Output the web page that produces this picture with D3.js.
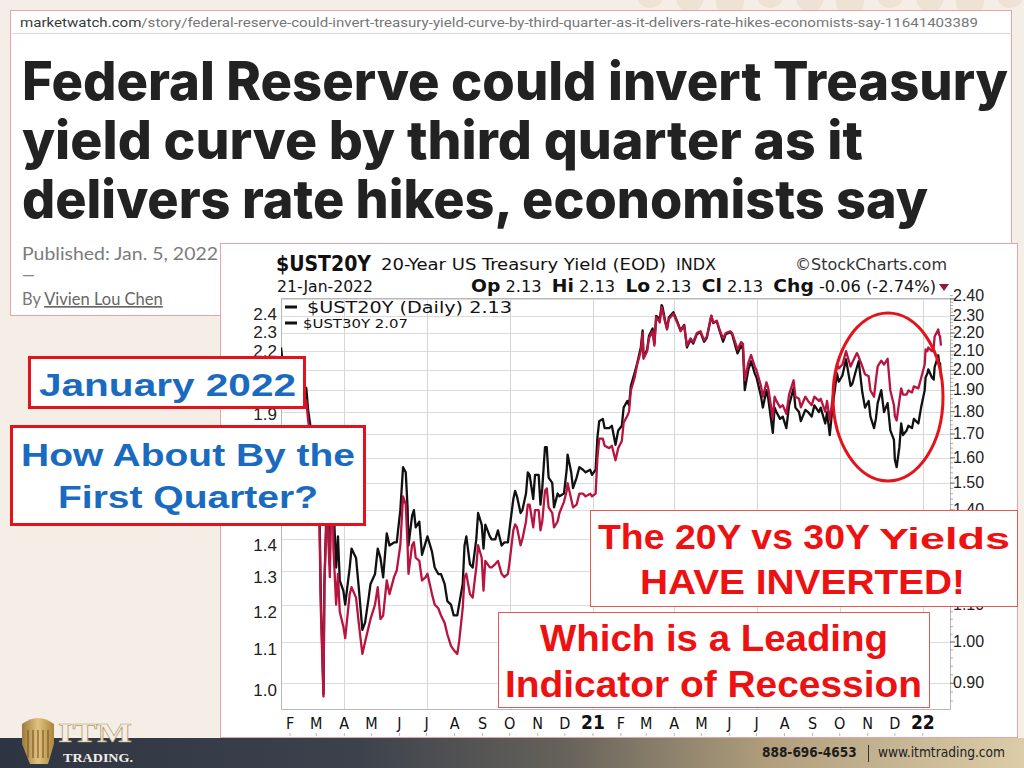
<!DOCTYPE html>
<html><head><meta charset="utf-8">
<script src="https://cdn.jsdelivr.net/npm/d3@7"></script>
<style>html,body{margin:0;padding:0;background:#f5eee7;}svg{display:block}</style>
</head><body><svg id="c" width="1024" height="768"></svg>
<script>
// ---------------- DATA ----------------
const dates = [
"2020-01-22","2020-01-24","2020-01-28","2020-01-31","2020-02-04","2020-02-07","2020-02-12","2020-02-14","2020-02-19","2020-02-21",
"2020-02-25","2020-02-27","2020-03-02","2020-03-04","2020-03-06","2020-03-09","2020-03-10","2020-03-12","2020-03-13","2020-03-16",
"2020-03-18","2020-03-19","2020-03-20","2020-03-23","2020-03-25","2020-03-27","2020-03-31","2020-04-02","2020-04-07","2020-04-09",
"2020-04-14","2020-04-17","2020-04-21","2020-04-24","2020-04-28","2020-04-30","2020-05-05","2020-05-08","2020-05-11","2020-05-14",
"2020-05-18","2020-05-21","2020-05-26","2020-05-29","2020-06-02","2020-06-05","2020-06-08","2020-06-10","2020-06-11","2020-06-15",
"2020-06-17","2020-06-19","2020-06-23","2020-06-26","2020-06-30","2020-07-02","2020-07-07","2020-07-10","2020-07-14","2020-07-17",
"2020-07-21","2020-07-24","2020-07-28","2020-07-31","2020-08-04","2020-08-06","2020-08-10","2020-08-12","2020-08-14","2020-08-18",
"2020-08-21","2020-08-25","2020-08-27","2020-08-31","2020-09-02","2020-09-04","2020-09-09","2020-09-11","2020-09-15","2020-09-18",
"2020-09-22","2020-09-25","2020-09-29","2020-10-01","2020-10-05","2020-10-07","2020-10-09","2020-10-13","2020-10-15","2020-10-19",
"2020-10-21","2020-10-23","2020-10-27","2020-10-29","2020-11-02","2020-11-04","2020-11-06","2020-11-09","2020-11-11","2020-11-13",
"2020-11-17","2020-11-19","2020-11-23","2020-11-25","2020-11-30","2020-12-03","2020-12-04","2020-12-08","2020-12-10","2020-12-14",
"2020-12-17","2020-12-21","2020-12-24","2020-12-29","2020-12-31",
"2021-01-04","2021-01-06","2021-01-08","2021-01-12","2021-01-14","2021-01-19","2021-01-22","2021-01-26","2021-01-29","2021-02-02",
"2021-02-04","2021-02-08","2021-02-10","2021-02-12","2021-02-16","2021-02-19","2021-02-23","2021-02-25","2021-02-26","2021-03-02",
"2021-03-04","2021-03-08","2021-03-10","2021-03-12","2021-03-16","2021-03-18","2021-03-19","2021-03-22","2021-03-24","2021-03-26",
"2021-03-31","2021-04-05","2021-04-08","2021-04-12","2021-04-15","2021-04-19","2021-04-22","2021-04-26","2021-04-30","2021-05-04",
"2021-05-07","2021-05-12","2021-05-14","2021-05-18","2021-05-21","2021-05-25","2021-05-28","2021-06-02","2021-06-04","2021-06-08",
"2021-06-10","2021-06-14","2021-06-16","2021-06-18","2021-06-22","2021-06-25","2021-06-29","2021-07-01","2021-07-06","2021-07-08",
"2021-07-12","2021-07-14","2021-07-19","2021-07-21","2021-07-23","2021-07-27","2021-07-30","2021-08-03","2021-08-06","2021-08-11",
"2021-08-13","2021-08-17","2021-08-19","2021-08-24","2021-08-27","2021-08-31","2021-09-03","2021-09-08","2021-09-10","2021-09-15",
"2021-09-17","2021-09-20","2021-09-23","2021-09-28","2021-09-30","2021-10-04","2021-10-08","2021-10-13","2021-10-15","2021-10-20",
"2021-10-22","2021-10-26","2021-10-29","2021-11-02","2021-11-04","2021-11-08","2021-11-10","2021-11-12","2021-11-16","2021-11-19",
"2021-11-23","2021-11-26","2021-11-30","2021-12-01","2021-12-03","2021-12-06","2021-12-08","2021-12-10","2021-12-14","2021-12-16",
"2021-12-20","2021-12-22","2021-12-27","2021-12-30",
"2022-01-03","2022-01-04","2022-01-06","2022-01-07","2022-01-11","2022-01-13","2022-01-14","2022-01-18","2022-01-19","2022-01-20","2022-01-21"
];
// $UST30Y (black line, left axis)
const ust30 = [
2.22,2.14,2.09,2.00,2.08,2.05,2.09,2.04,2.02,1.92,
1.81,1.68,1.65,1.64,1.25,0.99,1.28,1.49,1.56,1.34,
1.78,1.77,1.55,1.33,1.43,1.29,1.26,1.22,1.33,1.39,
1.36,1.27,1.15,1.17,1.24,1.28,1.31,1.39,1.36,1.30,
1.44,1.40,1.41,1.41,1.52,1.68,1.66,1.53,1.40,1.50,
1.52,1.46,1.48,1.37,1.41,1.43,1.38,1.33,1.31,1.31,
1.28,1.23,1.22,1.19,1.19,1.22,1.28,1.40,1.43,1.34,
1.33,1.42,1.51,1.47,1.39,1.47,1.43,1.42,1.42,1.45,
1.40,1.41,1.41,1.46,1.56,1.59,1.57,1.51,1.52,1.58,
1.66,1.65,1.56,1.65,1.65,1.54,1.60,1.76,1.76,1.64,
1.62,1.53,1.58,1.57,1.58,1.67,1.73,1.66,1.60,1.64,
1.68,1.67,1.66,1.67,1.65,
1.67,1.80,1.87,1.88,1.84,1.84,1.85,1.77,1.83,1.85,
1.93,1.96,1.94,2.03,2.09,2.14,2.22,2.31,2.17,2.21,
2.28,2.32,2.24,2.39,2.37,2.45,2.44,2.36,2.32,2.38,
2.41,2.35,2.31,2.34,2.22,2.26,2.24,2.29,2.30,2.25,
2.27,2.39,2.35,2.36,2.31,2.25,2.29,2.30,2.29,2.22,
2.19,2.23,2.21,2.01,2.11,2.15,2.09,2.07,1.98,1.93,
2.01,1.97,1.82,1.93,1.91,1.88,1.89,1.84,1.94,2.02,
1.93,1.91,1.87,1.92,1.91,1.89,1.94,1.91,1.93,1.86,
1.91,1.81,1.93,2.09,2.05,2.08,2.16,2.03,2.04,2.12,
2.15,2.00,1.93,1.96,1.89,1.84,1.88,1.95,2.01,1.91,
1.95,1.83,1.79,1.71,1.68,1.76,1.86,1.81,1.83,1.85,
1.84,1.88,1.86,1.93,
2.01,2.07,2.09,2.11,2.07,2.06,2.12,2.18,2.14,2.14,2.07
];
// $UST20Y (crimson line, right axis)
const ust20 = [
2.04,1.96,1.91,1.83,1.91,1.87,1.92,1.87,1.85,1.76,
1.65,1.52,1.48,1.46,1.09,0.87,1.16,1.33,1.41,1.18,
1.56,1.52,1.27,1.10,1.19,1.08,1.04,1.01,1.13,1.15,
1.12,1.05,0.97,1.00,1.04,1.06,1.10,1.15,1.06,1.07,
1.17,1.13,1.18,1.20,1.28,1.45,1.42,1.28,1.19,1.28,
1.29,1.24,1.23,1.17,1.18,1.19,1.13,1.10,1.09,1.07,
1.05,1.02,0.99,0.98,0.97,1.00,1.09,1.18,1.19,1.13,
1.12,1.21,1.28,1.24,1.14,1.23,1.21,1.21,1.22,1.23,
1.19,1.18,1.19,1.23,1.33,1.35,1.34,1.28,1.30,1.36,
1.42,1.42,1.34,1.40,1.40,1.33,1.36,1.47,1.48,1.41,
1.39,1.34,1.36,1.39,1.43,1.47,1.50,1.44,1.41,1.42,
1.46,1.46,1.45,1.46,1.45,
1.46,1.60,1.68,1.68,1.65,1.64,1.65,1.59,1.64,1.67,
1.75,1.78,1.80,1.90,1.96,2.03,2.10,2.20,2.06,2.10,
2.17,2.21,2.13,2.29,2.26,2.35,2.33,2.26,2.22,2.28,
2.31,2.25,2.21,2.24,2.13,2.17,2.15,2.20,2.21,2.16,
2.18,2.30,2.26,2.27,2.22,2.17,2.20,2.21,2.20,2.14,
2.11,2.15,2.14,1.95,2.04,2.08,2.02,2.00,1.92,1.87,
1.94,1.91,1.77,1.87,1.85,1.82,1.83,1.79,1.88,1.95,
1.87,1.86,1.82,1.87,1.85,1.83,1.87,1.85,1.86,1.80,
1.85,1.76,1.86,2.03,2.01,2.03,2.10,2.02,2.04,2.09,
2.07,2.02,1.98,1.97,1.90,1.87,1.95,2.02,2.05,2.03,
2.06,1.90,1.83,1.78,1.76,1.85,1.91,1.88,1.88,1.90,
1.89,1.92,1.91,1.96,
2.03,2.11,2.10,2.12,2.10,2.12,2.18,2.22,2.19,2.18,2.13
];
// tick values: grid lines follow the right axis; labels are the ones left visible in the picture
const rightTicks = [0.9,1.0,1.1,1.2,1.3,1.4,1.5,1.6,1.7,1.8,1.9,2.0,2.1,2.2,2.3,2.4];
const rightLabels = [0.9,1.0,1.1,1.4,1.5,1.6,1.7,1.8,1.9,2.0,2.1,2.2,2.3,2.4];
const leftLabels = [1.0,1.1,1.2,1.3,1.4,1.9,2.2,2.3,2.4];
const monthLabels = ["F","M","A","M","J","J","A","S","O","N","D","21","F","M","A","M","J","J","A","S","O","N","D","22"];
const legendLabels = ["$UST20Y (Daily) 2.13","$UST30Y 2.07"];

// ---------------- DRAW ----------------
const svg = d3.select("#c");
const parse = d3.timeParse("%Y-%m-%d");
const pts = dates.map((d,i)=>({date:parse(d), v30:ust30[i], v20:ust20[i]}));

const P = {l:281, r:950, t:298, b:709};
const x = d3.scaleTime().domain([new Date(2020,0,22), new Date(2022,0,31)]).range([P.l, P.r]);
const yL = d3.scaleLog().domain([1.0, 2.4]).range([690, 314]);
const yR = d3.scaleLog().domain([1.0, 2.2]).range([642, 333]);

const defs = svg.append("defs");
const grad = defs.append("linearGradient").attr("id","foot").attr("x1","0").attr("x2","1");
[["0%","#2e3542"],["35%","#3c424c"],["55%","#66625a"],["75%","#b09e7c"],["100%","#dccca8"]]
  .forEach(s=>grad.append("stop").attr("offset",s[0]).attr("stop-color",s[1]));
const gold = defs.append("linearGradient").attr("id","gold").attr("x1","0").attr("x2","1");
[["0%","#9c7a3c"],["50%","#e2c27e"],["100%","#a9863f"]].forEach(s=>gold.append("stop").attr("offset",s[0]).attr("stop-color",s[1]));
defs.append("clipPath").attr("id","plot").append("rect")
  .attr("x",P.l).attr("y",P.t).attr("width",P.r-P.l).attr("height",P.b-P.t);

// background
svg.append("rect").attr("width",1024).attr("height",768).attr("fill","#f5eee7");
const deco = svg.append("g").attr("fill","#eee2d5");
[650,690,730,770,810,850,890,930,970,1010].forEach((cx,i)=>{
  deco.append("rect").attr("x",cx-14).attr("y",-20).attr("width",28).attr("height",28+ (i%3)*4).attr("rx",14);
});

// article card
svg.append("rect").attr("x",10.5).attr("y",10.5).attr("width",1001).attr("height",305)
  .attr("fill","#ffffff").attr("stroke","#e8a4a4");
svg.append("line").attr("x1",10.5).attr("x2",1011.5).attr("y1",33.5).attr("y2",33.5).attr("stroke","#f0d2d2");
const url = svg.append("text").attr("x",20).attr("y",27).attr("font-family","Roboto, 'Liberation Sans Narrow', sans-serif")
  .attr("font-size",13.5).attr("textLength",958).attr("lengthAdjust","spacingAndGlyphs");
url.append("tspan").attr("fill","#3a3a3a").text("marketwatch.com");
url.append("tspan").attr("fill","#777").text("/story/federal-reserve-could-invert-treasury-yield-curve-by-third-quarter-as-it-delivers-rate-hikes-economists-say-11641403389");

const head = [["Federal Reserve could invert Treasury",100,986],["yield curve by third quarter as it",159,841],["delivers rate hikes, economists say",218,906]];
head.forEach(h=>svg.append("text").attr("x",22).attr("y",h[1]).attr("font-family","Inter, 'Open Sans', sans-serif")
  .attr("font-weight",800).attr("font-size",53).attr("fill","#222").attr("textLength",h[2])
  .attr("lengthAdjust","spacingAndGlyphs").text(h[0]));
svg.append("text").attr("x",22).attr("y",260).attr("font-family","Lato, sans-serif").attr("font-size",16.5)
  .attr("fill","#7b7b7b").attr("textLength",196).attr("lengthAdjust","spacingAndGlyphs").text("Published: Jan. 5, 2022");
svg.append("text").attr("x",22).attr("y",281).attr("font-family","Lato, sans-serif").attr("font-size",16.5).attr("fill","#888").text("—");
const by = svg.append("text").attr("x",22).attr("y",305).attr("font-family","Lato, sans-serif").attr("font-size",16.5).attr("fill","#777");
by.append("tspan").text("By ");
by.append("tspan").attr("fill","#666").attr("text-decoration","underline").text("Vivien Lou Chen");

// chart card
svg.append("rect").attr("x",220.5).attr("y",243.5).attr("width",797).attr("height",494)
  .attr("fill","#ffffff").attr("stroke","#e8a4a4");

const NF = "'Liberation Sans Narrow','DejaVu Sans Condensed','Liberation Sans',sans-serif";
svg.append("text").attr("x",276).attr("y",271).attr("font-family",NF).attr("font-weight",700).attr("font-size",21)
  .attr("fill","#111").attr("textLength",95).attr("lengthAdjust","spacingAndGlyphs").text("$UST20Y");
svg.append("text").attr("x",381).attr("y",270).attr("font-family",NF).attr("font-size",16.5)
  .attr("fill","#111").attr("textLength",285).attr("lengthAdjust","spacingAndGlyphs").text("20-Year US Treasury Yield (EOD)");
svg.append("text").attr("x",676).attr("y",270).attr("font-family",NF).attr("font-size",15.5)
  .attr("fill","#111").attr("textLength",40).attr("lengthAdjust","spacingAndGlyphs").text("INDX");
svg.append("text").attr("x",795).attr("y",270).attr("font-family",NF).attr("font-size",16.5)
  .attr("fill","#333").attr("textLength",152).attr("lengthAdjust","spacingAndGlyphs").text("©StockCharts.com");
svg.append("text").attr("x",277).attr("y",292).attr("font-family",NF).attr("font-size",16.5)
  .attr("fill","#111").attr("textLength",96).attr("lengthAdjust","spacingAndGlyphs").text("21-Jan-2022");
const ohl = svg.append("text").attr("x",471).attr("y",292).attr("font-family",NF).attr("font-size",16.5)
  .attr("fill","#111").attr("textLength",465).attr("lengthAdjust","spacingAndGlyphs");
[["Op",true],[" 2.13  ",false],["Hi",true],[" 2.13  ",false],["Lo",true],[" 2.13  ",false],["Cl",true],[" 2.13  ",false],["Chg",true],[" -0.06 (-2.74%)",false]]
  .forEach(p=>ohl.append("tspan").attr("font-weight",p[1]?700:400).attr("font-size",p[1]?18.5:16).attr("xml:space","preserve").text(p[0]));
svg.append("path").attr("d","M939,284 L949,284 L944,291 Z").attr("fill","#8e1b3e");

// grid
const g = svg.append("g");
g.selectAll(".hg").data(rightTicks).join("line")
  .attr("x1",P.l).attr("x2",P.r).attr("y1",d=>Math.round(yR(d))+0.5).attr("y2",d=>Math.round(yR(d))+0.5)
  .attr("stroke","#dcdcdc").attr("stroke-width",1);
const quarters = [new Date(2020,3,1),new Date(2020,6,1),new Date(2020,9,1),new Date(2021,0,1),new Date(2021,3,1),new Date(2021,6,1),new Date(2021,9,1),new Date(2022,0,1)];
g.selectAll(".vg").data(quarters).join("line")
  .attr("x1",d=>Math.round(x(d))+0.5).attr("x2",d=>Math.round(x(d))+0.5).attr("y1",P.t).attr("y2",P.b)
  .attr("stroke","#d6d6d6").attr("stroke-width",1);
g.append("rect").attr("x",P.l+0.5).attr("y",P.t+0.5).attr("width",P.r-P.l).attr("height",P.b-P.t)
  .attr("fill","none").attr("stroke","#b8b8b8");

// right axis minor ticks
const minor = d3.range(0.86,2.43,0.02);
g.selectAll(".mt").data(minor).join("line")
  .attr("x1",P.r).attr("x2",P.r+3).attr("y1",d=>yR(d)).attr("y2",d=>yR(d)).attr("stroke","#999").attr("stroke-width",0.8);
g.selectAll(".Mt").data(rightTicks).join("line")
  .attr("x1",P.r).attr("x2",P.r+5).attr("y1",d=>yR(d)).attr("y2",d=>yR(d)).attr("stroke","#777");

// axis labels
const AF = "'Liberation Sans', Arial, sans-serif";
svg.append("g").selectAll("text").data(rightLabels).join("text")
  .attr("x",953).attr("y",d=>yR(d)+5+(d>=2.35?-3:0)).attr("font-family",AF).attr("font-size",16).attr("fill","#222")
  .text(d=>d3.format(".2f")(d));
svg.append("g").selectAll("text").data(leftLabels).join("text")
  .attr("x",277).attr("y",d=>yL(d)+6).attr("text-anchor","end").attr("font-family",AF).attr("font-size",17).attr("fill","#222")
  .text(d=>d3.format(".1f")(d));
const months = d3.timeMonth.range(new Date(2020,1,1), new Date(2022,0,2));
svg.append("g").selectAll("text").data(months).join("text")
  .attr("x",d=>x(d)).attr("y",729).attr("text-anchor","middle").attr("font-family",NF)
  .attr("font-size",(d,i)=>/\d/.test(monthLabels[i])?19:16).attr("font-weight",(d,i)=>/\d/.test(monthLabels[i])?700:400)
  .attr("fill","#111").text((d,i)=>monthLabels[i]);
svg.append("g").selectAll("line").data(months).join("line")
  .attr("x1",d=>x(d)).attr("x2",d=>x(d)).attr("y1",733).attr("y2",736).attr("stroke","#bbb");

// series
const lineL = d3.line().x(d=>x(d.date)).y(d=>yL(d.v30));
const lineR = d3.line().x(d=>x(d.date)).y(d=>yR(d.v20));
const plot = svg.append("g").attr("clip-path","url(#plot)");
plot.append("path").datum(pts).attr("d",lineL).attr("fill","none").attr("stroke","#111").attr("stroke-width",2.3).attr("stroke-linejoin","round");
plot.append("path").datum(pts).attr("d",lineR).attr("fill","none").attr("stroke","#b8143f").attr("stroke-width",2.3).attr("stroke-linejoin","round");

// legend
const LF = "'DejaVu Sans', Verdana, sans-serif";
svg.append("rect").attr("x",285).attr("y",305.5).attr("width",12).attr("height",3).attr("fill","#111");
svg.append("rect").attr("x",285).attr("y",321.5).attr("width",12).attr("height",3).attr("fill","#111");
svg.append("text").attr("x",307).attr("y",313).attr("font-family",LF).attr("font-size",15).attr("fill","#111")
  .attr("textLength",205).attr("lengthAdjust","spacingAndGlyphs").text(legendLabels[0]);
svg.append("text").attr("x",303).attr("y",328).attr("font-family",LF).attr("font-size",13).attr("fill","#111")
  .attr("textLength",105).attr("lengthAdjust","spacingAndGlyphs").text(legendLabels[1]);

// red circle
svg.append("ellipse").attr("cx",888).attr("cy",397).attr("rx",55).attr("ry",84)
  .attr("fill","none").attr("stroke","#e3121b").attr("stroke-width",3);

// annotation boxes
const BF = "'Liberation Sans', Arial, sans-serif";
function box(x0,y0,w,h,sw,col){svg.append("rect").attr("x",x0).attr("y",y0).attr("width",w).attr("height",h)
  .attr("fill","#fff").attr("stroke",col).attr("stroke-width",sw);}
function txt(t,x0,y0,size,col,len){svg.append("text").attr("x",x0).attr("y",y0).attr("font-family",BF).attr("font-weight",700)
  .attr("font-size",size).attr("fill",col).attr("textLength",len).attr("lengthAdjust","spacingAndGlyphs").text(t);}
box(29.5,357.5,275,50,3,"#e3121b");
txt("January 2022",39,396,32,"#1a6bbf",257);
box(11.5,426.5,353,98,3,"#e3121b");
txt("How About By the",21,466,32,"#1a6bbf",334);
txt("First Quarter?",58,508,32,"#1a6bbf",260);

box(590.5,510.5,427,96,1,"#e05a5a");
txt("The 20Y vs 30Y",598,549,35,"#ee1111",272);
txt("Yields",879,549,29,"#ee1111",131);
txt("HAVE INVERTED!",640,594,35,"#ee1111",325);
box(498.5,612.5,431,95,1,"#e05a5a");
txt("Which is a Leading",540,651,36,"#ee1111",348);
txt("Indicator of Recession",505,697,36,"#ee1111",417);

// footer
svg.append("rect").attr("x",0).attr("y",738).attr("width",1024).attr("height",30).attr("fill","url(#foot)");
const ft = svg.append("text").attr("x",762).attr("y",757).attr("font-family",NF).attr("font-size",13.5).attr("fill","#1e1e1e");
ft.append("tspan").attr("font-weight",700).text("888-696-4653");
svg.append("line").attr("x1",868.5).attr("x2",868.5).attr("y1",745).attr("y2",762).attr("stroke","#333");
svg.append("text").attr("x",878).attr("y",757).attr("font-family",NF).attr("font-size",13.5).attr("fill","#222")
  .attr("textLength",127).attr("lengthAdjust","spacingAndGlyphs").text("www.itmtrading.com");
// logo
svg.append("path").attr("d","M22,724 Q38,712 54,724 L54,744 L48,764 L30,764 L22,744 Z").attr("fill","url(#gold)");
[28,33,38,43,48].forEach(xx=>svg.append("line").attr("x1",xx).attr("x2",xx).attr("y1",730).attr("y2",758).attr("stroke","#7a5a26").attr("stroke-width",1.2));
svg.append("text").attr("x",58).attr("y",742).attr("font-family","'Liberation Serif','DejaVu Serif',serif").attr("font-weight",700)
  .attr("font-size",27).attr("fill","#f3efe8").attr("stroke","#b59a66").attr("stroke-width",0.6)
  .attr("textLength",74).attr("lengthAdjust","spacingAndGlyphs").text("ITM");
svg.append("text").attr("x",63).attr("y",762).attr("font-family","'Liberation Serif','DejaVu Serif',serif").attr("font-weight",700)
  .attr("font-size",12).attr("fill","#f3efe8").attr("textLength",70).attr("lengthAdjust","spacingAndGlyphs").text("TRADING.");
</script></body></html>
